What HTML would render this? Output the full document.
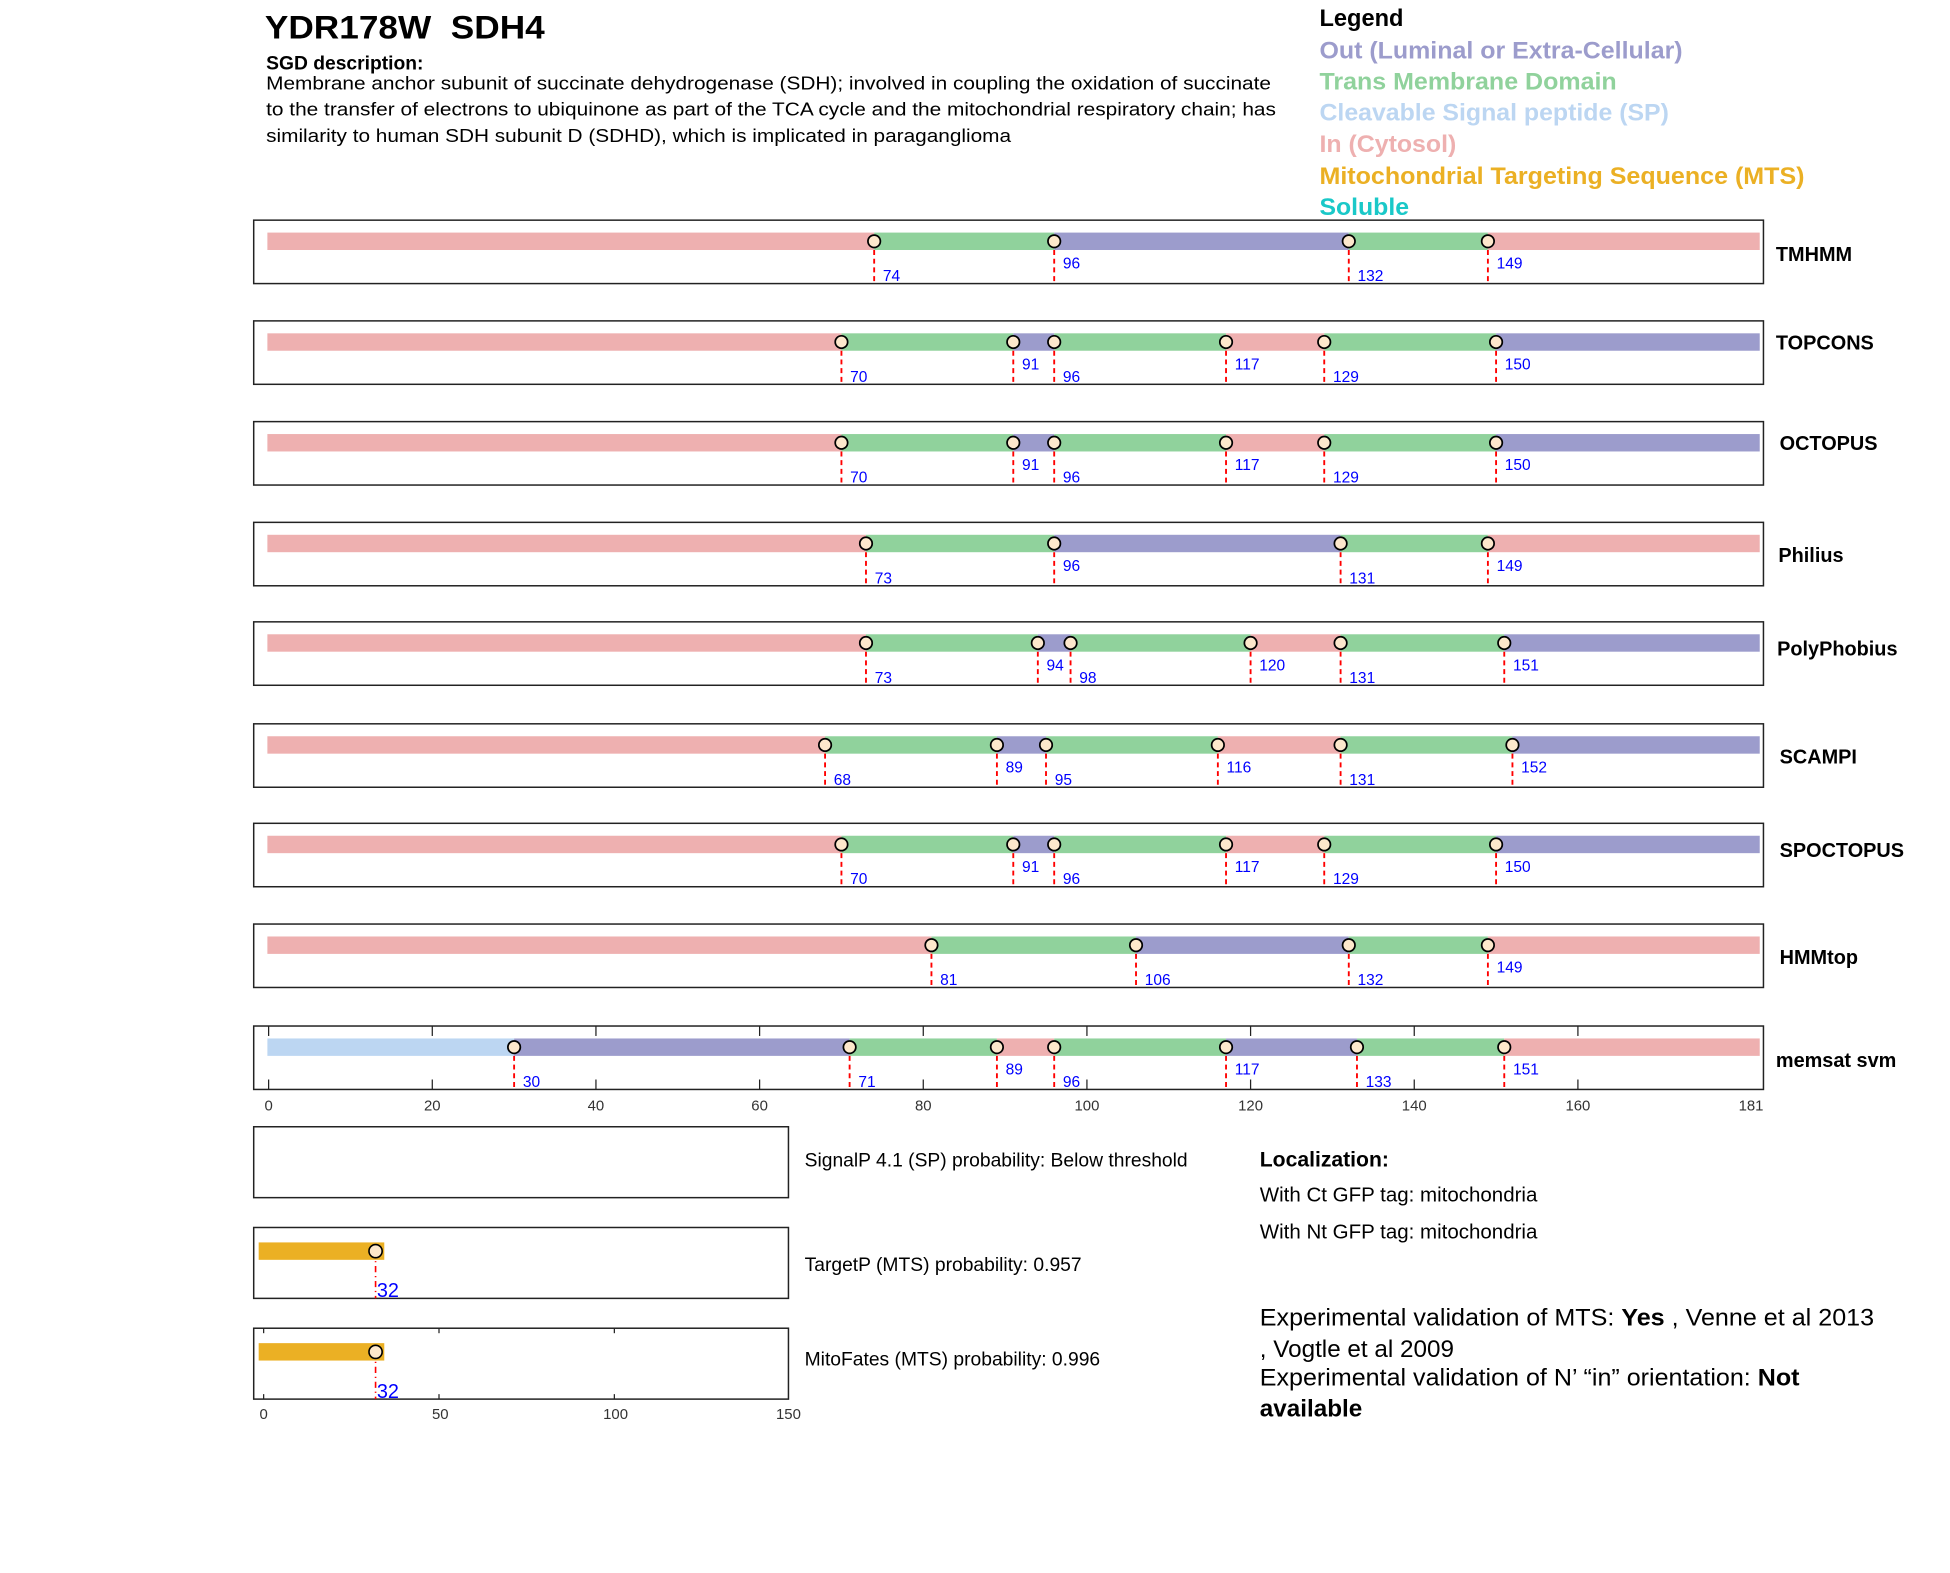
<!DOCTYPE html>
<html><head><meta charset="utf-8"><style>
html,body{margin:0;padding:0;background:#fff;}
svg{display:block;font-family:"Liberation Sans",Arial,sans-serif;}
</style></head><body>
<svg id="s" width="1950" height="1573" viewBox="0 0 1568 1264.8" xmlns="http://www.w3.org/2000/svg">
<rect width="1570" height="1270" fill="#fff"/>
<text x="213" y="31" font-size="26" font-weight="bold" xml:space="preserve" textLength="225" lengthAdjust="spacingAndGlyphs">YDR178W  SDH4</text>
<text x="214" y="56" font-size="15.5" font-weight="bold">SGD description:</text>
<text x="214" y="72" font-size="15" textLength="808" lengthAdjust="spacingAndGlyphs">Membrane anchor subunit of succinate dehydrogenase (SDH); involved in coupling the oxidation of succinate</text>
<text x="214" y="93" font-size="15" textLength="812" lengthAdjust="spacingAndGlyphs">to the transfer of electrons to ubiquinone as part of the TCA cycle and the mitochondrial respiratory chain; has</text>
<text x="214" y="114" font-size="15" textLength="599" lengthAdjust="spacingAndGlyphs">similarity to human SDH subunit D (SDHD), which is implicated in paraganglioma</text>
<g font-size="19" font-weight="bold" lengthAdjust="spacingAndGlyphs">
<text x="1061" y="21" fill="#000">Legend</text>
<text x="1061" y="47" fill="#9c9ccc" textLength="292" lengthAdjust="spacingAndGlyphs">Out (Luminal or Extra-Cellular)</text>
<text x="1061" y="72" fill="#90d29c" textLength="239" lengthAdjust="spacingAndGlyphs">Trans Membrane Domain</text>
<text x="1061" y="97" fill="#bcd6f2" textLength="281" lengthAdjust="spacingAndGlyphs">Cleavable Signal peptide (SP)</text>
<text x="1061" y="122" fill="#eeb0b0" textLength="110" lengthAdjust="spacingAndGlyphs">In (Cytosol)</text>
<text x="1061" y="148" fill="#ebb024" textLength="390" lengthAdjust="spacingAndGlyphs">Mitochondrial Targeting Sequence (MTS)</text>
<text x="1061" y="173" fill="#1ac8c8" textLength="72" lengthAdjust="spacingAndGlyphs">Soluble</text>
</g>
<g id="tracks"></g>
<rect x="204" y="906" width="430" height="57" fill="none" stroke="#222" stroke-width="1.2"/>
<rect x="204" y="987" width="430" height="57" fill="none" stroke="#222" stroke-width="1.2"/>
<rect x="204" y="1068" width="430" height="57" fill="none" stroke="#222" stroke-width="1.2"/>
<rect x="208" y="999" width="101" height="14" fill="#ebb024"/>
<rect x="208" y="1080" width="101" height="14" fill="#ebb024"/>
<line x1="302" y1="1006" x2="302" y2="1044" stroke="red" stroke-width="1.3" stroke-dasharray="5,3,1,3"/>
<line x1="302" y1="1087" x2="302" y2="1125" stroke="red" stroke-width="1.3" stroke-dasharray="5,3,1,3"/>
<circle cx="302" cy="1006" r="5.3" fill="#fde8cc" stroke="#000" stroke-width="1.3"/>
<circle cx="302" cy="1087" r="5.3" fill="#fde8cc" stroke="#000" stroke-width="1.3"/>
<text x="303" y="1043" font-size="16" fill="#00f">32</text>
<text x="303" y="1124" font-size="16" fill="#00f">32</text>
<g stroke="#222" stroke-width="1">
<line x1="212" y1="1068" x2="212" y2="1072"/><line x1="353" y1="1068" x2="353" y2="1072"/><line x1="494" y1="1068" x2="494" y2="1072"/>
<line x1="212" y1="1125" x2="212" y2="1121"/><line x1="353" y1="1125" x2="353" y2="1121"/><line x1="494" y1="1125" x2="494" y2="1121"/>
</g>
<g font-size="12" fill="#333" text-anchor="middle">
<text x="212" y="1141">0</text><text x="354" y="1141">50</text><text x="495" y="1141">100</text><text x="634" y="1141">150</text>
</g>
<g font-size="15.5">
<text x="647" y="938">SignalP 4.1 (SP) probability: Below threshold</text>
<text x="647" y="1022">TargetP (MTS) probability: 0.957</text>
<text x="647" y="1098">MitoFates (MTS) probability: 0.996</text>
<text x="1013" y="938" font-size="17" font-weight="bold">Localization:</text>
<text x="1013" y="966" font-size="16.5">With Ct GFP tag: mitochondria</text>
<text x="1013" y="996" font-size="16.5">With Nt GFP tag: mitochondria</text>
<text x="1013" y="1066" font-size="19.5" textLength="494" lengthAdjust="spacingAndGlyphs">Experimental validation of MTS: <tspan font-weight="bold">Yes</tspan> , Venne et al 2013</text>
<text x="1013" y="1091" font-size="19.5">, Vogtle et al 2009</text>
<text x="1013" y="1114" font-size="19.5" textLength="434" lengthAdjust="spacingAndGlyphs">Experimental validation of N’ “in” orientation: <tspan font-weight="bold">Not</tspan></text>
<text x="1013" y="1139" font-size="19.5" font-weight="bold">available</text>
</g>
</svg>
<script>
var C={i:"#eeb0b0",t:"#90d29c",o:"#9c9ccc",s:"#bcd6f2"};
var rows=[
["TMHMM",177,204,1428,"i74t96o132t149i",[0,1,0,1]],
["TOPCONS",258,275,1428,"i70t91o96t117i129t150o",[0,1,0,1,0,1]],
["OCTOPUS",339,356,1431,"i70t91o96t117i129t150o",[0,1,0,1,0,1]],
["Philius",420,446,1430,"i73t96o131t149i",[0,1,0,1]],
["PolyPhobius",500,521,1429,"i73t94o98t120i131t151o",[0,1,0,1,0,1]],
["SCAMPI",582,608,1431,"i68t89o95t116i131t152o",[0,1,0,1,0,1]],
["SPOCTOPUS",662,683,1431,"i70t91o96t117i129t150o",[0,1,0,1,0,1]],
["HMMtop",743,769,1431,"i81t106o132t149i",[0,0,0,1]],
["memsat svm",825,852,1428,"s30o71t89i96t117o133t151i",[0,0,1,0,1,0,1]]];
function X(v){return 216+v*6.58;}
var h="";
rows.forEach(function(r,ri){
 var top=r[1],by=top+10,bh=14,cy=top+17;
 h+='<rect x="204" y="'+top+'" width="1214" height="51" fill="none" stroke="#222" stroke-width="1.2"/>';
 var m=r[4].match(/[a-z]\d*/g),st=0,ends=[];
 m.forEach(function(tk){var c=tk[0],e=tk.length>1?+tk.slice(1):181;
  var x1=st==0?215:X(st),x2=e==181?1415:X(e);
  h+='<rect x="'+x1+'" y="'+by+'" width="'+(x2-x1)+'" height="'+bh+'" fill="'+C[c]+'"/>';
  if(e!=181)ends.push(e);st=e;});
 if(ri==8){for(var v=0;v<=160;v+=20){var x=X(v);h+='<line x1="'+x+'" y1="'+top+'" x2="'+x+'" y2="'+(top+8)+'" stroke="#222"/><line x1="'+x+'" y1="'+(top+51)+'" x2="'+x+'" y2="'+(top+43)+'" stroke="#222"/><text x="'+x+'" y="893" font-size="12" fill="#333" text-anchor="middle">'+v+'</text>';}
  h+='<text x="1408" y="893" font-size="12" fill="#333" text-anchor="middle">181</text>';}
 ends.forEach(function(e,k){var x=X(e);
  h+='<line x1="'+x+'" y1="'+cy+'" x2="'+x+'" y2="'+(top+51)+'" stroke="red" stroke-width="1.5" stroke-dasharray="4,3"/>';
  h+='<circle cx="'+x+'" cy="'+cy+'" r="5" fill="#fde8cc" stroke="#000" stroke-width="1.4"/>';
  var ly=r[5][k]?top+39:top+49;
  h+='<text x="'+(x+7)+'" y="'+ly+'" font-size="12.5" fill="#00f">'+e+'</text>';});
 h+='<text x="'+r[3]+'" y="'+(r[2]+6)+'" font-size="16" font-weight="bold">'+r[0]+'</text>';
});
document.getElementById("tracks").innerHTML=h;
</script>
</body></html>
